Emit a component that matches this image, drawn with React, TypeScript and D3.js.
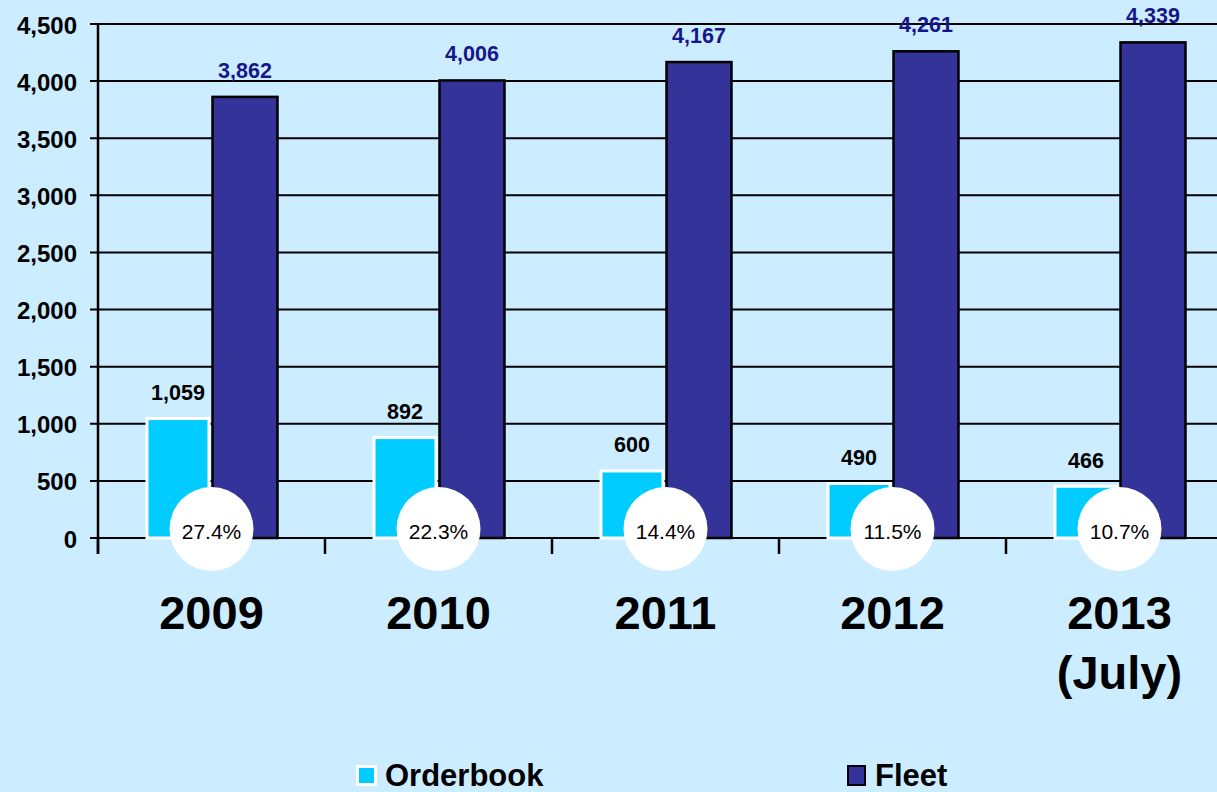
import React from "react";
import * as d3 from "d3";

const years = ["2009", "2010", "2011", "2012", "2013"];
const yearSubLabels = ["", "", "", "", "(July)"];
const series = ["Orderbook", "Fleet"];
const orderbook = [1059, 892, 600, 490, 466];
const fleet = [3862, 4006, 4167, 4261, 4339];
const percentLabels = ["27.4%", "22.3%", "14.4%", "11.5%", "10.7%"];
const yTicks = [0, 500, 1000, 1500, 2000, 2500, 3000, 3500, 4000, 4500];

const W = 1217;
const H = 792;
const BG = "#CCECFF";
const CYAN = "#00CCFF";
const NAVY = "#333399";
const NAVY_TEXT = "#16168A";
const FONT = "'Liberation Sans', Arial, Helvetica, sans-serif";

export default function App() {
  const y = d3.scaleLinear().domain([0, 4500]).range([538, 24]);
  const x = d3.scaleBand<string>().domain(years).range([98, 1233]).paddingInner(0).paddingOuter(0);
  const sub = d3.scaleBand<string>().domain(series).range([-66, 66]).paddingInner(0.03);
  const fmt = d3.format(",");
  const xAxisY = y(0);
  const plotLeft = 98;

  return (
    <div style={{ position: "fixed", left: 0, top: 0, width: W, height: H, background: BG }}>
      <svg width={W} height={H} style={{ display: "block", fontFamily: FONT }}>
        <rect x={0} y={0} width={W} height={H} fill={BG} />
        {yTicks.map((t) => (
          <g key={t}>
            <line x1={90} x2={W} y1={y(t)} y2={y(t)} stroke="#000" strokeWidth={2} />
            <text
              x={77}
              y={y(t) + 1}
              textAnchor="end"
              dominantBaseline="central"
              fontSize={24}
              fontWeight="bold"
              fill="#000"
            >
              {fmt(t)}
            </text>
          </g>
        ))}
        <line x1={plotLeft} x2={plotLeft} y1={y(4500)} y2={554} stroke="#000" strokeWidth={2.5} />
        {years.map((yr) => (
          <line key={yr} x1={x(yr)!} x2={x(yr)!} y1={xAxisY} y2={554} stroke="#000" strokeWidth={2.5} />
        ))}
        {years.map((yr, i) => {
          const cx = x(yr)! + x.bandwidth() / 2;
          const bw = sub.bandwidth();
          const ox = cx + sub("Orderbook")!;
          const fx = cx + sub("Fleet")!;
          return (
            <g key={yr}>
              <rect
                x={ox + 1.5}
                y={y(orderbook[i]) + 1.5}
                width={bw - 3}
                height={xAxisY - y(orderbook[i]) - 1.5}
                fill={CYAN}
                stroke="#fff"
                strokeWidth={3}
              />
              <rect
                x={fx}
                y={y(fleet[i])}
                width={bw}
                height={xAxisY - y(fleet[i])}
                fill={NAVY}
                stroke="#000"
                strokeWidth={2.5}
              />
              <text
                x={ox + bw / 2}
                y={y(orderbook[i]) - 17}
                textAnchor="middle"
                fontSize={21.5}
                fontWeight="bold"
                fill="#000"
              >
                {fmt(orderbook[i])}
              </text>
              <text
                x={fx + bw / 2}
                y={y(fleet[i]) - 19}
                textAnchor="middle"
                fontSize={21.5}
                fontWeight="bold"
                fill={NAVY_TEXT}
              >
                {fmt(fleet[i])}
              </text>
            </g>
          );
        })}
        {years.map((yr, i) => {
          const cx = x(yr)! + x.bandwidth() / 2;
          return (
            <g key={"c" + yr}>
              <circle cx={cx} cy={529} r={42} fill="#fff" />
              <text x={cx} y={531} textAnchor="middle" dominantBaseline="central" fontSize={21} fill="#000">
                {percentLabels[i]}
              </text>
            </g>
          );
        })}
        {years.map((yr, i) => {
          const cx = x(yr)! + x.bandwidth() / 2;
          return (
            <g key={"l" + yr}>
              <text x={cx} y={629} textAnchor="middle" fontSize={47} fontWeight="bold" fill="#000">
                {yr}
              </text>
              {yearSubLabels[i] && (
                <text x={cx} y={689} textAnchor="middle" fontSize={47} fontWeight="bold" fill="#000">
                  {yearSubLabels[i]}
                </text>
              )}
            </g>
          );
        })}
        <rect x={357.5} y={766.5} width={18} height={18} fill={CYAN} stroke="#fff" strokeWidth={3} />
        <text x={385} y={786} fontSize={31} fontWeight="bold" fill="#000">
          {series[0]}
        </text>
        <rect x={848} y={766} width={17} height={19} fill={NAVY} stroke="#000" strokeWidth={2} />
        <text x={875} y={786} fontSize={31} fontWeight="bold" fill="#000">
          {series[1]}
        </text>
      </svg>
    </div>
  );
}
